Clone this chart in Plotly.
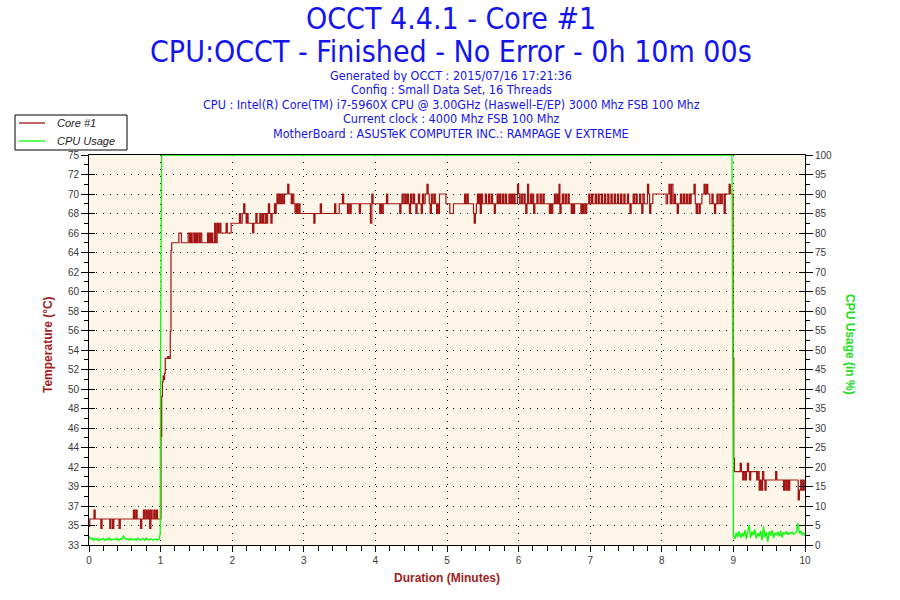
import plotly.graph_objects as go

# ---------------- data ----------------
temp_tick_labels = ["33", "35", "37", "39", "42", "44", "46", "48", "50", "52", "54",
                    "56", "58", "60", "62", "64", "66", "68", "70", "72", "75"]
temp_axis_min = 33
temp_axis_max = 75
minute_ticks = [0, 1, 2, 3, 4, 5, 6, 7, 8, 9, 10]

# Core #1 temperature, (minute, value) change points (step line)
core1_idle = [(0.00, 35.0), (0.01, 35.8), (0.07, 36.75), (0.087, 35.8), (0.165, 34.8), (0.182, 35.8),
              (0.29, 34.8), (0.307, 35.8), (0.33, 34.8), (0.347, 35.8), (0.42, 34.8), (0.437, 35.8),
              (0.62, 36.75), (0.637, 35.8), (0.655, 36.75), (0.672, 35.8), (0.72, 34.8), (0.737, 35.8),
              (0.76, 36.75), (0.777, 35.8), (0.795, 36.75), (0.812, 35.8), (0.83, 36.75), (0.847, 34.8),
              (0.865, 36.75), (0.882, 35.8), (0.905, 36.75), (0.922, 35.8), (0.94, 36.75), (0.957, 35.8),
              (1.00, 35.8)]
core1_ramp = [(1.005, 44.7), (1.015, 49.0), (1.025, 50.6), (1.035, 51.2), (1.045, 50.8), (1.055, 51.5),
              (1.065, 53.1), (1.10, 53.3), (1.115, 53.1), (1.135, 56.0), (1.145, 64.7)]
core1_load = [(1.155, 65.55), (1.255, 66.6), (1.29, 65.55), (1.385, 66.6), (1.405, 65.55), (1.42, 66.6),
              (1.435, 65.55), (1.455, 66.6), (1.475, 65.55), (1.49, 66.6), (1.505, 65.55), (1.52, 66.6),
              (1.54, 65.55), (1.555, 66.6), (1.575, 65.55), (1.655, 66.6), (1.67, 65.55), (1.685, 66.6),
              (1.70, 65.55), (1.715, 66.6), (1.73, 65.55), (1.755, 67.65), (1.772, 65.55), (1.79, 67.65),
              (1.807, 66.6), (1.825, 67.65), (1.842, 66.6), (1.915, 67.65), (1.932, 66.6), (1.985, 67.65),
              (2.10, 68.7), (2.117, 67.65), (2.14, 68.7), (2.16, 69.75), (2.177, 68.7), (2.195, 67.65),
              (2.205, 68.7), (2.222, 67.65), (2.285, 66.6), (2.302, 67.65), (2.33, 68.7), (2.347, 67.65),
              (2.385, 68.7), (2.402, 67.65), (2.42, 68.7), (2.437, 67.65), (2.46, 68.7), (2.477, 67.65),
              (2.495, 68.7), (2.505, 69.75), (2.522, 68.7), (2.54, 67.65), (2.557, 68.7), (2.59, 69.75),
              (2.607, 68.7), (2.615, 69.75), (2.625, 70.8), (2.642, 69.75), (2.66, 70.8), (2.677, 69.75),
              (2.695, 70.8), (2.712, 69.75), (2.73, 70.8), (2.775, 71.85), (2.792, 70.8), (2.825, 69.75),
              (2.842, 70.8), (2.86, 69.75), (2.877, 68.7), (2.895, 69.75), (2.912, 68.7), (2.93, 69.75),
              (2.947, 68.7), (3.14, 67.65), (3.157, 68.7), (3.23, 69.75), (3.247, 68.7),
              (3.43, 69.75), (3.447, 68.7), (3.495, 69.75), (3.54, 70.8), (3.557, 69.75), (3.61, 68.7),
              (3.627, 69.75), (3.645, 68.7), (3.662, 69.75), (3.775, 68.7), (3.792, 69.75), (3.93, 67.65),
              (3.95, 70.8), (3.967, 69.75), (4.06, 68.7), (4.077, 69.75), (4.092, 68.7), (4.11, 69.75),
              (4.155, 70.8), (4.172, 69.75), (4.34, 68.7), (4.357, 69.75), (4.372, 70.8), (4.389, 69.75),
              (4.41, 70.8), (4.427, 69.75), (4.445, 70.8), (4.462, 69.75), (4.475, 68.7), (4.492, 70.8),
              (4.509, 69.75), (4.53, 70.8), (4.547, 69.75), (4.565, 68.7), (4.582, 69.75), (4.60, 70.8),
              (4.617, 69.75), (4.64, 68.7), (4.657, 70.8), (4.674, 69.75), (4.695, 70.8), (4.72, 71.85),
              (4.737, 70.8), (4.752, 69.75), (4.765, 68.7), (4.782, 70.8), (4.80, 69.75), (4.82, 70.8),
              (4.837, 69.75), (4.855, 68.7), (4.872, 69.75), (4.885, 68.7), (4.895, 70.8), (4.985, 69.75),
              (5.04, 68.7), (5.09, 69.75), (5.245, 70.8), (5.262, 69.75), (5.28, 70.8), (5.297, 69.75),
              (5.37, 68.7), (5.38, 67.65), (5.397, 68.7), (5.41, 69.75), (5.425, 70.8), (5.442, 69.75),
              (5.455, 70.8), (5.465, 68.7), (5.48, 70.8), (5.497, 69.75), (5.535, 70.8), (5.552, 69.75),
              (5.58, 70.8), (5.597, 69.75), (5.62, 70.8), (5.637, 69.75), (5.66, 68.7), (5.677, 69.75),
              (5.70, 70.8), (5.717, 69.75), (5.735, 70.8), (5.752, 69.75), (5.775, 70.8), (5.792, 69.75),
              (5.815, 70.8), (5.832, 69.75), (5.865, 70.8), (5.882, 69.75), (5.90, 70.8), (5.917, 69.75),
              (5.935, 70.8), (5.952, 69.75), (5.985, 71.85), (6.0, 70.8), (6.015, 69.75), (6.035, 70.8),
              (6.052, 69.75), (6.075, 70.8), (6.092, 69.75), (6.10, 68.7), (6.117, 69.75), (6.125, 71.85),
              (6.14, 69.75), (6.165, 70.8), (6.182, 69.75), (6.20, 70.8), (6.21, 68.7), (6.227, 69.75),
              (6.255, 70.8), (6.272, 69.75), (6.30, 70.8), (6.317, 69.75), (6.34, 70.8), (6.357, 69.75),
              (6.43, 68.7), (6.447, 69.75), (6.46, 68.7), (6.477, 69.75), (6.50, 70.8), (6.517, 69.75),
              (6.535, 70.8), (6.552, 69.75), (6.565, 71.85), (6.577, 68.7), (6.594, 69.75), (6.61, 70.8),
              (6.627, 69.75), (6.65, 70.8), (6.667, 69.75), (6.69, 70.8), (6.707, 69.75),
              (6.735, 68.7), (6.752, 69.75), (6.765, 68.7), (6.782, 69.75), (6.87, 68.7), (6.887, 69.75),
              (6.90, 68.7), (6.917, 69.75), (6.935, 68.7), (6.952, 69.75), (6.98, 70.8), (6.997, 69.75),
              (7.02, 70.8), (7.037, 69.75), (7.07, 70.8), (7.087, 69.75), (7.11, 70.8), (7.127, 69.75),
              (7.155, 70.8), (7.172, 69.75), (7.20, 70.8), (7.217, 69.75), (7.245, 70.8), (7.262, 69.75),
              (7.29, 70.8), (7.307, 69.75), (7.335, 70.8), (7.352, 69.75), (7.38, 70.8), (7.397, 69.75),
              (7.425, 70.8), (7.442, 69.75), (7.47, 70.8), (7.487, 69.75), (7.52, 70.8), (7.537, 69.75),
              (7.555, 68.7), (7.572, 69.75), (7.60, 70.8), (7.617, 69.75), (7.64, 70.8), (7.657, 69.75),
              (7.69, 70.8), (7.707, 69.75), (7.72, 68.7), (7.737, 70.8), (7.755, 69.75), (7.80, 71.85),
              (7.817, 70.8), (7.83, 68.7), (7.847, 69.75), (7.875, 70.8), (8.06, 69.75), (8.08, 70.8),
              (8.10, 71.85), (8.117, 69.75), (8.135, 71.85), (8.155, 69.75), (8.175, 70.8), (8.192, 69.75),
              (8.215, 68.7), (8.232, 69.75), (8.26, 70.8), (8.277, 69.75), (8.30, 70.8), (8.317, 69.75),
              (8.34, 70.8), (8.357, 69.75), (8.38, 70.8), (8.397, 69.75), (8.41, 70.8), (8.45, 71.85),
              (8.467, 69.75), (8.48, 68.7), (8.497, 69.75), (8.52, 68.7), (8.537, 69.75), (8.56, 70.8),
              (8.59, 71.85), (8.607, 70.8), (8.625, 71.85), (8.642, 70.8), (8.67, 69.75), (8.70, 70.8),
              (8.717, 69.75), (8.735, 68.7), (8.752, 69.75), (8.77, 70.8), (8.787, 69.75), (8.81, 70.8),
              (8.827, 69.75), (8.845, 70.8), (8.87, 68.7), (8.887, 70.8), (8.94, 71.85), (8.957, 70.8),
              (8.97, 70.8)]
core1_cool = [(8.995, 53.1), (9.005, 42.3), (9.015, 40.9), (9.095, 41.8), (9.112, 40.9), (9.13, 40.0),
              (9.147, 40.9), (9.165, 40.0), (9.182, 40.9), (9.195, 41.8), (9.212, 40.9), (9.225, 40.0),
              (9.242, 40.9), (9.325, 40.0), (9.342, 40.9), (9.36, 38.9), (9.377, 40.0), (9.39, 38.9),
              (9.407, 40.9), (9.425, 40.0), (9.44, 38.9), (9.457, 40.0), (9.59, 40.9), (9.607, 40.0),
              (9.70, 38.9), (9.717, 40.0), (9.735, 38.9), (9.752, 40.0), (9.77, 38.9), (9.787, 40.0),
              (9.905, 37.85), (9.922, 38.9), (9.94, 40.0), (9.957, 38.9), (9.975, 40.0), (9.99, 38.9),
              (10.0, 38.9)]

# CPU usage (%), sampled every 0.02 minute in idle phases
cpu_sample_step = 0.02
cpu_idle_start = 0.0
cpu_idle_values = [2.3, 1.5, 1.8, 1.2, 1.6, 1.3, 1.7, 1.1, 1.5, 1.4, 1.7, 1.2, 1.6, 1.3, 1.8, 1.2,
                   1.5, 1.4, 1.6, 1.3, 1.7, 1.2, 1.6, 1.5, 2.3, 1.8, 1.4, 1.6, 1.2, 1.7, 1.3, 1.5,
                   1.6, 1.2, 1.8, 1.4, 1.3, 1.6, 1.7, 1.2, 1.8, 1.5, 1.3, 1.6, 1.4, 1.2, 1.5, 1.4,
                   1.3, 1.5]
cpu_transition = [(0.995, 3.0), (1.0, 52.0), (1.015, 100.0), (8.98, 100.0), (8.99, 55.0), (9.0, 2.5)]
cpu_post_start = 9.02
cpu_post_values = [1.5, 3.2, 2.0, 3.5, 1.8, 3.0, 2.2, 3.8, 1.5, 3.3, 5.2, 1.8, 3.5, 2.5, 4.0, 1.6,
                   3.0, 2.2, 3.6, 1.2, 4.8, 2.0, 3.3, 0.8, 3.5, 2.4, 3.8, 1.8, 3.0, 2.6, 3.4, 2.2,
                   3.7, 1.9, 3.2, 2.8, 3.5, 2.6, 3.1, 2.9, 3.3, 2.7, 3.0, 3.4, 5.6, 3.0, 3.6, 2.5,
                   3.2, 2.4]

title_lines = ["OCCT 4.4.1 - Core #1", "CPU:OCCT - Finished - No Error - 0h 10m 00s"]
info_lines = ["Generated by OCCT : 2015/07/16 17:21:36",
              "Config : Small Data Set, 16 Threads",
              "CPU : Intel(R) Core(TM) i7-5960X CPU @ 3.00GHz (Haswell-E/EP) 3000 Mhz FSB 100 Mhz",
              "Current clock : 4000 Mhz FSB 100 Mhz",
              "MotherBoard : ASUSTeK COMPUTER INC.: RAMPAGE V EXTREME"]
legend_names = ["Core #1", "CPU Usage"]

# ---------------- build ----------------
temp_points = core1_idle + core1_ramp + core1_load + core1_cool
temp_x = [p[0] for p in temp_points]
temp_y = [p[1] for p in temp_points]

cpu_x = [cpu_idle_start + i * cpu_sample_step for i in range(len(cpu_idle_values))]
cpu_y = list(cpu_idle_values)
cpu_x += [p[0] for p in cpu_transition]
cpu_y += [p[1] for p in cpu_transition]
cpu_x += [cpu_post_start + i * cpu_sample_step for i in range(len(cpu_post_values))]
cpu_y += list(cpu_post_values)

n_int = len(temp_tick_labels) - 1
temp_tickvals = [temp_axis_min + (temp_axis_max - temp_axis_min) * k / n_int for k in range(n_int + 1)]
temp_minor = [(a + b) / 2 for a, b in zip(temp_tickvals[:-1], temp_tickvals[1:])]

RED = "#A31414"
GREEN = "#00FF00"
TICKFONT = dict(family="Liberation Sans, Arial, sans-serif", size=10, color="#3A3A3A")
DOT = "1px,6px"

# plot area in pixels: x 89..805, y 155..545
PL, PR, PT, PB = 89, 805, 155, 545


def px(x):
    return (x - PL) / (PR - PL)


def py(y):
    return (PB - y) / (PB - PT)


fig = go.Figure()
fig.add_trace(go.Scatter(x=temp_x, y=temp_y, name=legend_names[0], mode="lines",
                         line=dict(color=RED, width=1.2, shape="hv"), yaxis="y"))
fig.add_trace(go.Scatter(x=cpu_x, y=cpu_y, name=legend_names[1], mode="lines",
                         line=dict(color=GREEN, width=1.3), yaxis="y2"))
# carriers for inner tick marks
fig.add_trace(go.Scatter(x=[], y=[], yaxis="y3", showlegend=False, hoverinfo="skip"))
fig.add_trace(go.Scatter(x=[], y=[], yaxis="y4", showlegend=False, hoverinfo="skip"))

fig.update_layout(
    width=900, height=600,
    margin=dict(l=PL, r=900 - PR, t=PT, b=600 - PB),
    paper_bgcolor="white", plot_bgcolor="#FDF6E8",
    showlegend=False,
    xaxis=dict(range=[0, 10], tickmode="array", tickvals=minute_ticks,
               ticks="outside", ticklen=6, tickcolor="black", tickfont=TICKFONT,
               minor=dict(dtick=0.2, tick0=0, ticks="outside", ticklen=5, tickcolor="black", showgrid=False),
               showline=True, linecolor="black", linewidth=1, mirror=True,
               showgrid=True, gridcolor="black", gridwidth=1, griddash=DOT, zeroline=False),
    yaxis=dict(range=[temp_axis_min, temp_axis_max], tickmode="array", tickvals=temp_tickvals,
               ticktext=temp_tick_labels, ticks="outside", ticklen=7, tickcolor="black",
               tickfont=TICKFONT,
               minor=dict(tickmode="array", tickvals=temp_minor, ticks="outside", ticklen=4,
                          tickcolor="black", showgrid=False),
               showline=True, linecolor="black", linewidth=1,
               showgrid=True, gridcolor="black", gridwidth=1, griddash=DOT, zeroline=False),
    yaxis2=dict(range=[0, 100], overlaying="y", side="right", dtick=5, tick0=0,
                ticks="outside", ticklen=7, tickcolor="black", tickfont=TICKFONT,
                minor=dict(dtick=2.5, tick0=0, ticks="outside", ticklen=4, tickcolor="black", showgrid=False),
                showline=True, linecolor="black", linewidth=1,
                showgrid=False, zeroline=False),
    yaxis3=dict(range=[temp_axis_min, temp_axis_max], overlaying="y", side="left",
                tickmode="array", tickvals=temp_tickvals, ticks="inside", ticklen=6,
                tickcolor="black", showticklabels=False, showgrid=False, showline=False, zeroline=False),
    yaxis4=dict(range=[0, 100], overlaying="y", side="right", dtick=5, tick0=0,
                ticks="inside", ticklen=6, tickcolor="black", showticklabels=False,
                showgrid=False, showline=False, zeroline=False),
)

TITLE_FONT = "Liberation Sans Narrow, DejaVu Sans Condensed, Arial Narrow, sans-serif"
BLUE = "#1414EE"
anns = []
for text, ypx in zip(title_lines, [19, 51]):
    anns.append(dict(text=text, x=px(451), y=py(ypx), xref="paper", yref="paper",
                     showarrow=False, xanchor="center", yanchor="middle", height=29,
                     font=dict(family=TITLE_FONT, size=30, color=BLUE)))
for i, text in enumerate(info_lines):
    anns.append(dict(text=text, x=px(451), y=py(75 + i * 14.5), xref="paper", yref="paper",
                     showarrow=False, xanchor="center", yanchor="middle", height=13, borderpad=0,
                     font=dict(family=TITLE_FONT, size=12.5, color=BLUE)))
anns.append(dict(text="<b>Temperature (°C)</b>", x=px(48), y=py(345),
                 xref="paper", yref="paper", showarrow=False, textangle=-90,
                 xanchor="center", yanchor="middle",
                 font=dict(family="Liberation Sans, Arial, sans-serif", size=12, color="#A01E1E")))
anns.append(dict(text="<b>CPU Usage (in %)</b>", x=px(850), y=py(345),
                 xref="paper", yref="paper", showarrow=False, textangle=90,
                 xanchor="center", yanchor="middle",
                 font=dict(family="Liberation Sans, Arial, sans-serif", size=12, color="#22DD22")))
anns.append(dict(text="<b>Duration (Minutes)</b>", x=px(447), y=py(578),
                 xref="paper", yref="paper", showarrow=False,
                 xanchor="center", yanchor="middle",
                 font=dict(family="Liberation Sans, Arial, sans-serif", size=12, color="#A01E1E")))

# hand-drawn legend box (matches the reference's compact box)
shapes = [dict(type="rect", xref="paper", yref="paper", x0=px(15), x1=px(127), y0=py(150), y1=py(115),
               line=dict(color="black", width=1), fillcolor="white", layer="above")]
for name, color, ypx in zip(legend_names, [RED, GREEN], [123, 141]):
    shapes.append(dict(type="line", xref="paper", yref="paper", x0=px(19), x1=px(45), y0=py(ypx), y1=py(ypx),
                       line=dict(color=color, width=1.3), layer="above"))
    anns.append(dict(text="<i>" + name + "</i>", x=px(55), y=py(ypx), xref="paper", yref="paper",
                     showarrow=False, xanchor="left", yanchor="middle",
                     font=dict(family="Liberation Sans, Arial, sans-serif", size=11, color="#222222")))
fig.update_layout(annotations=anns, shapes=shapes)

fig.write_html("out.html", config={"displayModeBar": False},
               post_script="document.body.style.margin='0px';")
